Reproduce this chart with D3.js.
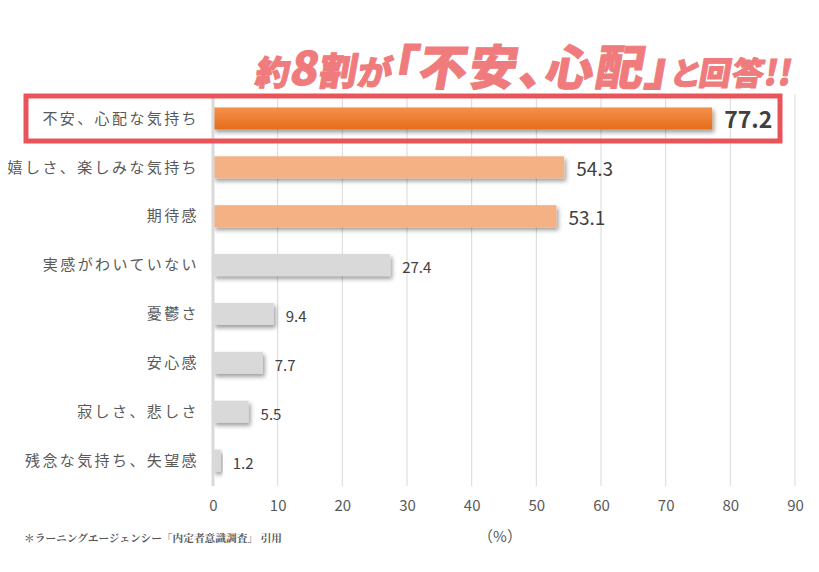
<!DOCTYPE html>
<html><head><meta charset="utf-8">
<script src="https://cdn.jsdelivr.net/npm/d3@7"></script>
<style>body{margin:0;background:#fff;} svg{display:block;} .palt{font-feature-settings:"palt" 1;}</style>
</head><body>
<script>
const categories = ["不安、心配な気持ち","嬉しさ、楽しみな気持ち","期待感","実感がわいていない","憂鬱さ","安心感","寂しさ、悲しさ","残念な気持ち、失望感"];
const values = [77.2, 54.3, 53.1, 27.4, 9.4, 7.7, 5.5, 1.2];
const tickValues = [0,10,20,30,40,50,60,70,80,90];
const titleParts = [["約",34],["8",46],["割",38],["が",34],["「不安、心配」",48],["と回答",32],["!!",34]];
const sourceText = "＊ラーニングエージェンシー「内定者意識調査」 引用";
const unitText = "（%）";

const W=819,H=572;
const svg=d3.select("body").append("svg").attr("width",W).attr("height",H);
const font="'Noto Sans CJK JP','Noto Sans',sans-serif";

const x=d3.scaleLinear().domain([0,90]).range([213,795]);
const y=d3.scaleBand().domain(categories).range([94,485]).paddingInner(0.55).paddingOuter(0.275);

const defs=svg.append("defs");
const grad=defs.append("linearGradient").attr("id","og").attr("x1",0).attr("y1",0).attr("x2",0).attr("y2",1);
grad.append("stop").attr("offset","0%").attr("stop-color","#f4914a");
grad.append("stop").attr("offset","100%").attr("stop-color","#e56d1b");
const f=defs.append("filter").attr("id","sh").attr("x","-10%").attr("y","-30%").attr("width","130%").attr("height","190%");
f.append("feDropShadow").attr("dx",2).attr("dy",3).attr("stdDeviation",2).attr("flood-color","#000").attr("flood-opacity",0.38);

// gridlines
svg.append("g").selectAll("line").data(tickValues.slice(1)).join("line")
 .attr("x1",d=>x(d)).attr("x2",d=>x(d)).attr("y1",94).attr("y2",486)
 .attr("stroke","#d9d9d9").attr("stroke-width",1);

// x axis labels
const ax=svg.append("g").attr("transform","translate(0,486)")
 .call(d3.axisBottom(x).tickValues(tickValues).tickSize(0).tickPadding(14));
ax.select(".domain").remove();
ax.selectAll("text").attr("font-family",font).attr("font-size",15).attr("fill","#595959");

const colors=values.map((v,i)=>i===0?"url(#og)":(i<3?"#f4b183":"#d9d9d9"));
svg.append("g").selectAll("rect").data(values).join("rect")
 .attr("x",x(0)).attr("y",(d,i)=>y(categories[i]))
 .attr("width",d=>x(d)-x(0)).attr("height",y.bandwidth())
 .attr("fill",(d,i)=>colors[i]).attr("filter","url(#sh)");

// zero axis line
svg.append("line").attr("x1",x(0)).attr("x2",x(0)).attr("y1",94).attr("y2",486)
 .attr("stroke","#d9d9d9").attr("stroke-width",3);

// category labels
svg.append("g").selectAll("text").data(categories).join("text")
 .attr("x",199).attr("y",d=>y(d)+y.bandwidth()/2).attr("dy","0.35em")
 .attr("text-anchor","end").attr("font-family",font).attr("font-size",15).attr("fill","#595959")
 .attr("letter-spacing",2.4)
 .text(d=>d);

// value labels
const vsize=(i)=>i===0?23:(i<3?19:15);
svg.append("g").selectAll("text").data(values).join("text")
 .attr("x",d=>x(d)+12).attr("y",(d,i)=>y(categories[i])+y.bandwidth()/2+(i===0?1.5:(i<3?2:3))).attr("dy","0.35em")
 .attr("font-family",font).attr("font-size",(d,i)=>vsize(i))
 .attr("font-weight",(d,i)=>i===0?"bold":"normal").attr("fill","#404040")
 .text(d=>d.toFixed(1));

// red box
svg.append("rect").attr("x",26).attr("y",96).attr("width",754).attr("height",45)
 .attr("fill","none").attr("stroke","#e9545b").attr("stroke-width",5);

// title
const base=85, ang=-10, comp=-base*Math.tan(ang*Math.PI/180);
const t=svg.append("text").attr("class","palt").attr("x",254).attr("y",base).attr("font-family",font)
 .attr("font-weight","900").attr("fill","#ef7b7d").attr("stroke","#ef7b7d").attr("stroke-width",1)
 .attr("letter-spacing",1)
 .attr("transform",`translate(${comp},0) skewX(${ang})`);
t.selectAll("tspan").data(titleParts).join("tspan").attr("font-size",d=>d[1])
 .attr("letter-spacing",d=>d[1]===48?2.3:0.6).text(d=>d[0]);

// source
svg.append("text").attr("x",24).attr("y",542).attr("font-family","'Noto Serif CJK JP','Noto Sans CJK JP',serif")
 .attr("font-size",10.7).attr("font-weight","bold").attr("fill","#595959").text(sourceText);
svg.append("text").attr("x",500).attr("y",542).attr("text-anchor","middle").attr("font-family",font)
 .attr("font-size",15).attr("fill","#595959").text(unitText);
</script>
</body></html>
